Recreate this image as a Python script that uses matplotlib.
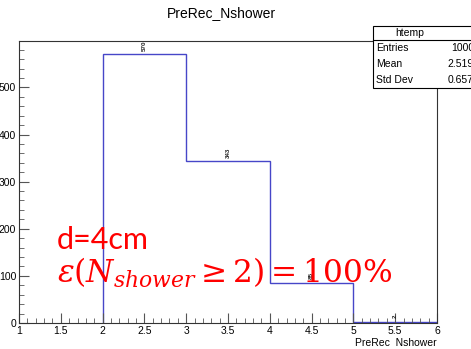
import numpy as np
import matplotlib.pyplot as plt
from matplotlib.patches import Rectangle

# histogram content
bin_edges = [2, 3, 4, 5, 6]
counts = [570, 343, 85, 2]
stats_names = ["Entries", "Mean", "Std Dev"]
stats_vals = ["1000", "2.519", "0.657"]

plt.rcParams['font.family'] = ['Liberation Sans', 'DejaVu Sans']
plt.rcParams['mathtext.fontset'] = 'dejavuserif'

fig = plt.figure(figsize=(4.71, 3.49), dpi=100)
ax = fig.add_axes([0.0403, 0.0745, 0.8875, 0.808])

ax.stairs(counts, bin_edges, color='#4646c8', lw=1.0)
centers = 0.5 * (np.array(bin_edges[:-1]) + np.array(bin_edges[1:]))
for c, n in zip(centers, counts):
    ax.text(c, n + 8, str(n), rotation=90, fontsize=4.5, fontweight='bold',
            ha='center', va='bottom', color='#222222')

ax.set_xlim(1, 6)
ax.set_ylim(0, 598.5)
ax.set_xticks(np.arange(1, 6.01, 0.5))
ax.set_xticklabels(['1', '1.5', '2', '2.5', '3', '3.5', '4', '4.5', '5', '5.5', '6'])
ax.set_xticks(np.arange(1, 6.001, 0.1), minor=True)
ax.set_yticks(np.arange(0, 501, 100))
ax.set_yticks(np.arange(0, 598, 20), minor=True)
ax.tick_params(direction='in', which='both', labelsize=7.5, color='#555555', pad=2)
ax.tick_params(which='major', length=7)
ax.tick_params(which='minor', length=3.5)
for s in ax.spines.values():
    s.set_linewidth(0.8)
    s.set_color('#333333')

fig.text(0.928, 1 - 343 / 349, "PreRec  Nshower", ha='right', va='center', fontsize=7.5)
fig.text(0.471, 1 - 13 / 349, "PreRec_Nshower", ha='center', va='center', fontsize=10)

# stats box
bx0, bx1 = 373 / 471, 1.02
by_top, by_bot = 1 - 26 / 349, 1 - 88 / 349
fig.patches.append(Rectangle((bx0, by_bot), bx1 - bx0, by_top - by_bot,
                             transform=fig.transFigure, fill=True, fc='white',
                             ec='black', lw=0.8, zorder=5))
hdr = 1 - 40 / 349
fig.add_artist(plt.Line2D([bx0, bx1], [hdr, hdr], transform=fig.transFigure,
                          color='black', lw=0.8, zorder=6))
fig.text(410 / 471, (by_top + hdr) / 2, "htemp", ha='center',
         va='center', fontsize=7.5, zorder=7)
row_h = (hdr - by_bot) / 3
for i, (nm, v) in enumerate(zip(stats_names, stats_vals)):
    yy = hdr - row_h * (i + 0.5)
    fig.text(bx0 + 0.007, yy, nm, ha='left', va='center', fontsize=7.5, zorder=7)
    fig.text(474 / 471, yy, v, ha='right', va='center', fontsize=7.5, zorder=7)

fig.text(57 / 471, 1 - 240 / 349, "d=4cm", color='red', fontsize=22,
         ha='left', va='center', family='Lato')
fig.text(57 / 471, 1 - 273 / 349, r"$\varepsilon(N_{shower} \geq 2) = 100\%$",
         color='red', fontsize=22.5, ha='left', va='center')

fig.savefig('out.png', dpi=100)
